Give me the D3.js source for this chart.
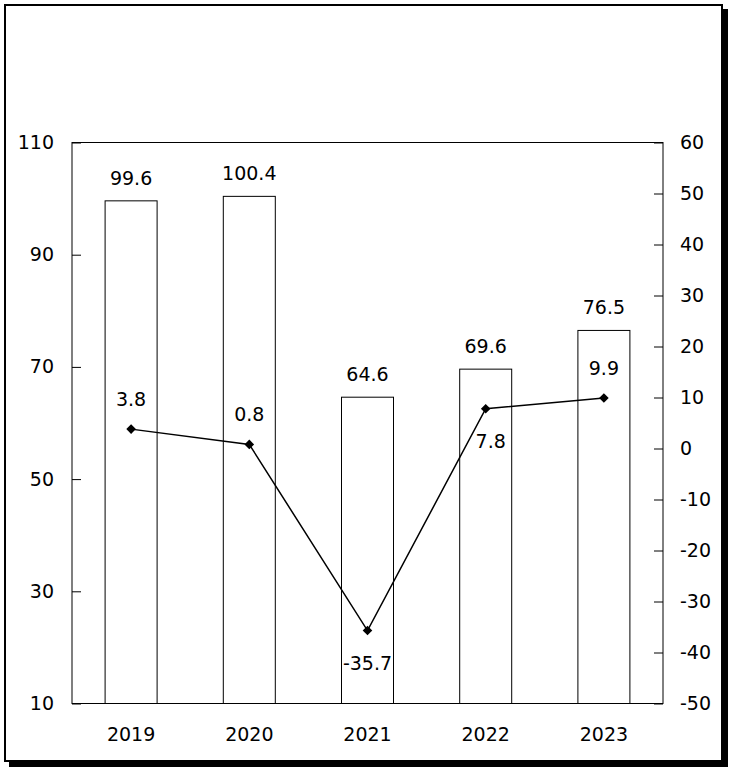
<!DOCTYPE html>
<html>
<head>
<meta charset="utf-8">
<script src="https://cdn.jsdelivr.net/npm/d3@7"></script>
<style>
  body { margin: 0; background: #fff; }
  svg text { font-family: "DejaVu Sans", sans-serif; }
</style>
</head>
<body>
<div id="wrapper"></div>
<script>
const years = ["2019", "2020", "2021", "2022", "2023"]
const barValues = [99.6, 100.4, 64.6, 69.6, 76.5]
const growthValues = [3.8, 0.8, -35.7, 7.8, 9.9]
const leftTicks = [10, 30, 50, 70, 90, 110]
const rightTicks = [-50, -40, -30, -20, -10, 0, 10, 20, 30, 40, 50, 60]
// label above (-1) or below (1) the point
const growthLabelSide = [-1, -1, 1, 1, -1]

const width = 735
const height = 772
const margin = { top: 142.5, right: 72, bottom: 68.5, left: 72 }
const boundedWidth = width - margin.left - margin.right
const boundedHeight = height - margin.top - margin.bottom
const fontSize = "19px"

const wrapper = d3.select("#wrapper")
    .append("svg")
    .attr("width", width)
    .attr("height", height)

// frame with shadow
wrapper.append("rect")
    .attr("x", 9).attr("y", 9)
    .attr("width", 719).attr("height", 758)
    .attr("fill", "#000")
wrapper.append("rect")
    .attr("x", 5).attr("y", 5)
    .attr("width", 717).attr("height", 756)
    .attr("fill", "#fff")
    .attr("stroke", "#000")
    .attr("stroke-width", 2)

const bounds = wrapper.append("g")
    .attr("transform", `translate(${margin.left},${margin.top})`)

const xScaler = d3.scaleBand()
    .domain(years)
    .range([0, boundedWidth])
    .paddingInner(0.56)
    .paddingOuter(0.28)

const bandStep = boundedWidth / years.length
const centerOf = (d, i) => bandStep * (i + 0.5)

const yLeft = d3.scaleLinear()
    .domain([10, 110])
    .range([boundedHeight, 0])

const yRight = d3.scaleLinear()
    .domain([-50, 60])
    .range([boundedHeight, 0])

const barWidth = 52
const plainNum = d => String(d)

// bars
bounds.append("g")
    .selectAll("rect")
    .data(barValues)
    .join("rect")
    .attr("x", (d, i) => centerOf(d, i) - barWidth / 2)
    .attr("y", d => yLeft(d))
    .attr("width", barWidth)
    .attr("height", d => boundedHeight - yLeft(d))
    .attr("fill", "#fff")
    .attr("stroke", "#000")
    .attr("stroke-width", 1)

bounds.append("g")
    .selectAll("text")
    .data(barValues)
    .join("text")
    .attr("x", (d, i) => centerOf(d, i))
    .attr("y", d => yLeft(d) - 16)
    .attr("text-anchor", "middle")
    .attr("font-size", fontSize)
    .text(d => d.toFixed(1))

// plot box
bounds.append("rect")
    .attr("width", boundedWidth)
    .attr("height", boundedHeight)
    .attr("fill", "none")
    .attr("stroke", "#000")
    .attr("stroke-width", 1)

// growth line
const lineGen = d3.line()
    .x((d, i) => centerOf(d, i))
    .y(d => yRight(d))

bounds.append("path")
    .datum(growthValues)
    .attr("d", lineGen)
    .attr("fill", "none")
    .attr("stroke", "#000")
    .attr("stroke-width", 1.5)

const diamond = d3.symbol().type(d3.symbolSquare).size(46)
bounds.append("g")
    .selectAll("path")
    .data(growthValues)
    .join("path")
    .attr("d", diamond)
    .attr("transform", (d, i) => `translate(${centerOf(d, i)},${yRight(d)}) rotate(45)`)
    .attr("fill", "#000")

bounds.append("g")
    .selectAll("text")
    .data(growthValues)
    .join("text")
    .attr("x", (d, i) => centerOf(d, i) + (growthLabelSide[i] > 0 && d > 0 ? 5 : 0))
    .attr("y", (d, i) => yRight(d) + (growthLabelSide[i] < 0 ? -23 : 39))
    .attr("text-anchor", "middle")
    .attr("font-size", fontSize)
    .text(d => d.toFixed(1))

// axes
const yLeftAxis = bounds.append("g")
    .call(d3.axisLeft(yLeft)
        .tickValues(leftTicks)
        .tickSizeInner(-9)
        .tickSizeOuter(0)
        .tickPadding(18)
        .tickFormat(plainNum))
yLeftAxis.select(".domain").remove()

const yRightAxis = bounds.append("g")
    .attr("transform", `translate(${boundedWidth},0)`)
    .call(d3.axisRight(yRight)
        .tickValues(rightTicks)
        .tickSizeInner(-9)
        .tickSizeOuter(0)
        .tickPadding(17)
        .tickFormat(plainNum))
yRightAxis.select(".domain").remove()

const xAxis = bounds.append("g")
    .attr("transform", `translate(0,${boundedHeight})`)
    .call(d3.axisBottom(xScaler).tickSize(0).tickPadding(24))
xAxis.select(".domain").remove()

wrapper.selectAll(".tick text")
    .attr("font-size", fontSize)
    .attr("font-family", "DejaVu Sans, sans-serif")
    .attr("fill", "#000")
wrapper.selectAll(".tick line").attr("stroke", "#000")
</script>
</body>
</html>
